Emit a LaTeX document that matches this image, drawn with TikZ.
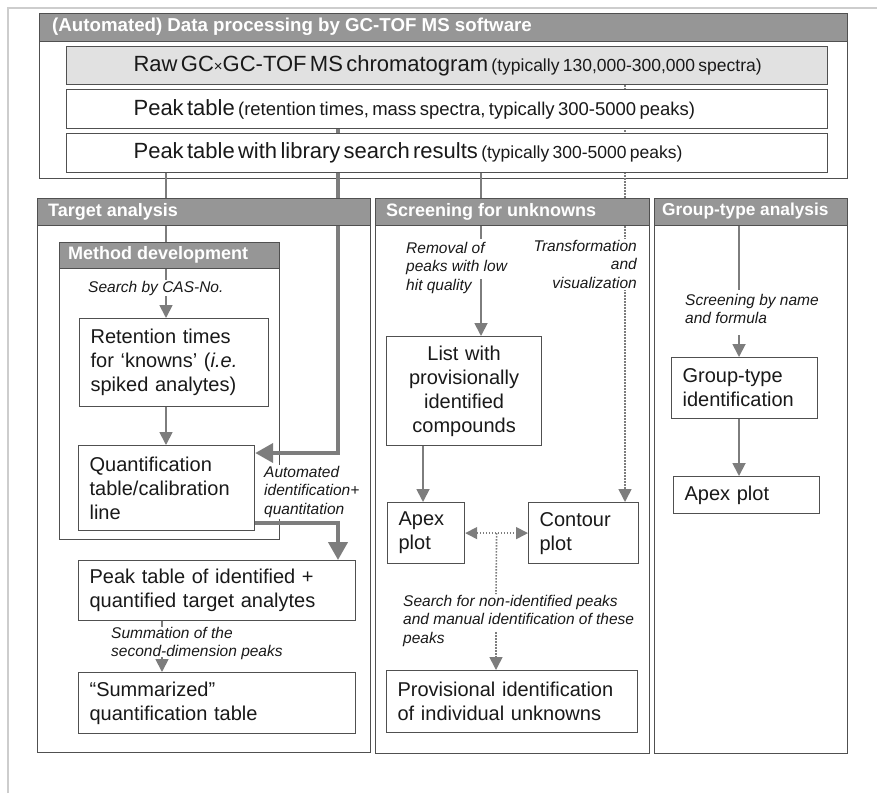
\documentclass[tikz,border=0pt]{standalone}
\usepackage{fontspec}
\setmainfont{Liberation Sans}
\usetikzlibrary{arrows.meta,calc}
\pgfdeclarelayer{back}
\pgfdeclarelayer{background}
\pgfsetlayers{back,background,main}
\definecolor{boxc}{RGB}{80,80,80}
\definecolor{hdrc}{RGB}{150,150,150}
\definecolor{arrc}{RGB}{125,125,125}
\definecolor{rawc}{RGB}{225,225,225}
\definecolor{txtc}{RGB}{25,25,25}
\definecolor{edgec}{RGB}{205,205,205}
\newcommand\fsz[2]{\fontsize{#1pt}{#2pt}\selectfont}
\begin{document}
\begin{tikzpicture}[x=1pt,y=-1pt,
  container/.style={draw=boxc, line width=1.2pt, anchor=north west, inner sep=0pt},
  hdr/.style={draw=boxc, fill=hdrc, line width=1.2pt, anchor=north west, inner sep=0pt, minimum height=27pt},
  hdrtext/.style={anchor=west, text=white, font=\fsz{18}{20}\bfseries, inner sep=0pt},
  bx/.style={draw=boxc, fill=white, line width=1.2pt, anchor=north west, inner xsep=11pt, inner ysep=0pt, align=left, text=txtc, font=\fsz{20}{24}},
  toprow/.style={draw=boxc, fill=white, line width=1.2pt, anchor=north west, inner sep=0pt, text width=761pt, align=left, text=txtc},
  lbl/.style={font=\fsz{15.5}{18.5}\itshape, text=txtc, inner sep=1pt, align=left},
  conn/.style={draw=arrc, line width=1.8pt},
  arrowed/.style={-{Triangle[length=13pt,width=13pt]}},
  twoway/.style={{Triangle[length=12pt,width=12pt]}-{Triangle[length=12pt,width=12pt]}},
  thickconn/.style={draw=arrc, line width=4pt, -{Triangle[length=18pt,width=19pt]}},
  dotconn/.style={draw=arrc, line width=1.6pt, dash pattern={on 1.5pt off 1.5pt}}
]
\useasboundingbox (0,0) rectangle (877,793);
% image edge lines
\draw[edgec, line width=1.5pt] (8,793) -- (8,8) -- (877,8);

% containers
\begin{pgfonlayer}{back}
\node[container, minimum width=808pt, minimum height=165pt] (topbox) at (39,13) {};
\node[container, minimum width=333pt, minimum height=554pt] (target) at (37,198) {};
\node[container, minimum width=274pt, minimum height=555pt] (screen) at (375,198) {};
\node[container, minimum width=193pt, minimum height=555pt] (group) at (654,198) {};
\node[container, minimum width=220pt, minimum height=297pt] (method) at (59,242) {};
\end{pgfonlayer}

% headers
\node[hdr, minimum width=808pt, minimum height=28pt] (tophdr) at (39,13) {};
\node[hdr, minimum width=333pt] (targethdr) at (37,198) {};
\node[hdr, minimum width=274pt] (screenhdr) at (375,198) {};
\node[hdr, minimum width=193pt] (grouphdr) at (654,198) {};
\node[hdr, minimum width=220pt, minimum height=26pt] (methodhdr) at (59,242) {};
\node[hdrtext, font=\fsz{18.7}{20}\bfseries] (toptitle) at (52,27) {(Automated) Data processing by GC-TOF MS software};
\node[hdrtext] (targettitle) at (48,211.5) {Target analysis};
\node[hdrtext] (methodtitle) at (68,255) {Method development};
\node[hdrtext] (screentitle) at (386,211.5) {Screening for unknowns};
\node[hdrtext, font=\fsz{17.3}{20}\bfseries] (grouptitle) at (662,211.5) {Group-type analysis};

% top rows
\node[toprow, fill=rawc, minimum height=38pt] (raw) at (66,46) {\hspace*{67pt}{\fsz{22}{24}Raw GC{\fsz{15}{15}×}GC-TOF MS chromatogram} {\fsz{17.5}{20}(typically 130,000-300,000 spectra)}};
\node[toprow, minimum height=39pt] (pt) at (66,89) {\hspace*{67pt}{\fsz{22}{24}Peak table} {\fsz{18.5}{20}(retention times, mass spectra, typically 300-5000 peaks)}};
\node[toprow, minimum height=39pt] (lib) at (66,133) {\hspace*{67pt}{\fsz{22}{24}Peak table with library search results} {\fsz{17.5}{20}(typically 300-5000 peaks)}};

% inner boxes
\node[bx, text width=167pt, minimum height=88pt] (ret) at (79,318) {Retention times\\for ‘knowns’ (\textit{i.e.}\\spiked analytes)};
\node[bx, text width=154pt, minimum height=85pt] (quant) at (78,445) {Quantification\\table/calibration\\line};
\node[bx, text width=255pt, minimum height=60pt] (pti) at (78,560) {Peak table of identified +\\quantified target analytes};
\node[bx, text width=255pt, minimum height=61pt] (summ) at (78,672) {“Summarized”\\quantification table};
\node[bx, text width=133pt, minimum height=109pt, align=center] (list) at (386,336) {List with\\provisionally\\identified\\compounds};
\node[bx, text width=55pt, minimum height=61pt] (apex) at (387,502) {Apex\\plot};
\node[bx, text width=88pt, minimum height=61pt] (contour) at (528,502) {Contour\\plot};
\node[bx, text width=229pt, minimum height=62pt] (prov) at (386,670) {Provisional identification\\of individual unknowns};
\node[bx, text width=124pt, minimum height=61pt] (gti) at (671,357) {Group-type\\identification};
\node[bx, text width=124pt, minimum height=37pt] (gapex) at (673,476) {Apex plot};

% labels
\node[lbl, anchor=west, fill=white] (cas) at (87,288) {Search by CAS-No.};
\node[lbl, anchor=north west] (removal) at (405,241) {Removal of\\peaks with low\\hit quality};
\node[lbl, anchor=north east, align=right, fill=white] (transf) at (638,239) {Transformation\\and\\visualization};
\node[lbl, anchor=north west] (byname) at (684,293) {Screening by name\\and formula};
\node[lbl, anchor=north west, fill=white] (autom) at (263,465) {Automated\\identification+\\quantitation};
\node[lbl, anchor=north west] (summation) at (110,626) {Summation of the\\second-dimension peaks};
\node[lbl, anchor=north west] (search) at (402,594) {Search for non-identified peaks\\and manual identification of these\\peaks};

% helper coordinates
\coordinate (xT) at (166,0);
\coordinate (xK) at (338,0);
\coordinate (xU) at (162,0);
\coordinate (xS) at (481,0);
\coordinate (xL) at (423,0);
\coordinate (xD) at (625,0);
\coordinate (xG) at (739,0);
\coordinate (sumA) at (162,627);
\coordinate (sumB) at (162,657);
\coordinate (remA) at (481,239);
\coordinate (remB) at (481,279);
\coordinate (srchA) at (496,594);
\coordinate (srchB) at (496,632);
\coordinate (grpA) at (739,290);
\coordinate (grpB) at (739,335);

% connectors
\begin{pgfonlayer}{background}
\draw[conn] (lib.south -| xT) -- (cas.north -| xT);
\draw[conn, arrowed] (cas.south -| xT) -- (ret.north -| xT);
\draw[conn, arrowed] (ret.south -| xT) -- (quant.north -| xT);
\draw[thickconn] (pt.south -| xK) |- ($(quant.north east)+(0,8)$);
\draw[thickconn] ($(quant.south east)+(0,-8)$) -| (pti.north -| xK);
\draw[conn] (pti.south -| xU) -- (sumA);
\draw[conn, arrowed] (sumB) -- (summ.north -| xU);
\draw[conn] (lib.south -| xS) -- (remA);
\draw[conn, arrowed] (remB) -- (list.north -| xS);
\draw[conn, arrowed] (list.south -| xL) -- (apex.north -| xL);
\draw[dotconn, arrowed] (raw.south -| xD) -- (contour.north -| xD);
\draw[dotconn, twoway] (apex.east) -- (contour.west);
\coordinate (mid) at ($(apex.east)!0.5!(contour.west)$);
\draw[dotconn] (mid) -- (srchA);
\draw[dotconn, arrowed] (srchB) -- (prov.north -| srchB);
\draw[conn] (grouphdr.south -| xG) -- (grpA);
\draw[conn, arrowed] (grpB) -- (gti.north -| xG);
\draw[conn, arrowed] (gti.south -| xG) -- (gapex.north -| xG);
\end{pgfonlayer}
\end{tikzpicture}
\end{document}
